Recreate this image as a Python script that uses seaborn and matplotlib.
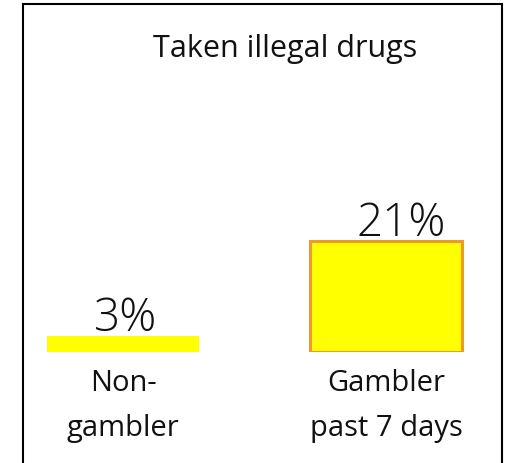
import matplotlib
matplotlib.use("Agg")
import matplotlib.pyplot as plt
from matplotlib.lines import Line2D
import seaborn as sns
import pandas as pd

# Data
categories = ["Non-\ngambler", "Gambler\npast 7 days"]
values = [3, 21]
title = "Taken illegal drugs"

BAR_FILL = "#FFFF00"
EDGE_ORANGE = "#EE9A2A"

sns.set_theme(style="white")
plt.rcParams["font.family"] = ["Open Sans", "DejaVu Sans"]

W, H = 510, 463
fig = plt.figure(figsize=(W / 100, H / 100), dpi=100)
fig.patch.set_facecolor("white")

# axes spans the framed area; baseline sits 111 px above the bottom edge
ax = fig.add_axes([23 / W, 111 / H, 479 / W, 349 / H])
ax.set_facecolor("white")

df = pd.DataFrame({"group": categories, "pct": values})
sns.barplot(data=df, x="group", y="pct", order=categories, color=BAR_FILL,
            saturation=1, width=0.58, ax=ax, linewidth=0)

# only the gambler bar carries an orange outline
ax.patches[1].set_edgecolor(EDGE_ORANGE)
ax.patches[1].set_linewidth(2.2)

px_per_unit = 263
ax.set_xlim(-100 / px_per_unit, 1 + 116 / px_per_unit)
ax.set_ylim(0, max(values) * 349 / 111)

# value labels start a little left of each bar's centre
for i, v in enumerate(values):
    ax.annotate(f"{v}%", xy=(i, v), xytext=(-21, 3.5), textcoords="offset points",
                ha="left", va="baseline", fontsize=33, fontweight="light",
                color="#111111")

ax.set_xlabel("")
ax.set_ylabel("")
ax.set_yticks([])
ax.tick_params(axis="x", length=0, pad=12, labelsize=21, labelcolor="#111111")
for lab in ax.get_xticklabels():
    lab.set_linespacing(1.72)
    lab.set_multialignment("center")
for s in ax.spines.values():
    s.set_visible(False)

# title
fig.text(285 / W, 1 - 57 / H, title, ha="center", va="baseline",
         fontsize=22, color="#111111")

# open frame: left, top and right sides
lw = 1.5
x0, x1, yt = 23 / W, 502 / W, 1 - 3.5 / H
fig.add_artist(Line2D([x0, x0, x1, x1], [0, yt, yt, 0], transform=fig.transFigure,
                      color="black", linewidth=lw, solid_joinstyle="miter"))

fig.savefig("out.png", dpi=100)
